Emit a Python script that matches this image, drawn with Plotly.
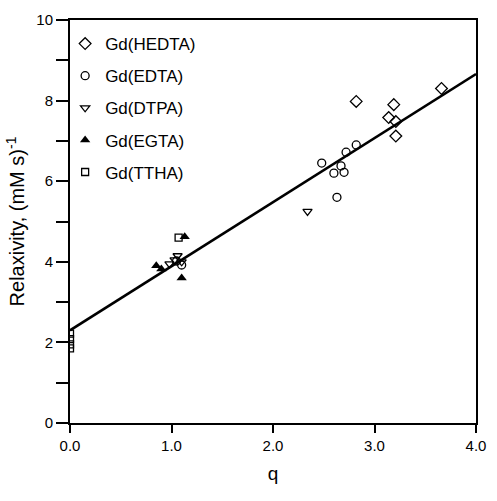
import plotly.graph_objects as go

# --- data ---
hedta_q = [2.82, 3.19, 3.14, 3.21, 3.21, 3.66]
hedta_r = [7.98, 7.90, 7.58, 7.48, 7.12, 8.30]

edta_q = [2.82, 2.72, 2.48, 2.67, 2.60, 2.70, 2.63, 1.05, 1.10]
edta_r = [6.90, 6.72, 6.45, 6.38, 6.20, 6.22, 5.60, 4.02, 3.92]

dtpa_q = [2.34, 0.98, 1.06, 1.03, 1.10]
dtpa_r = [5.25, 3.95, 4.15, 4.05, 4.00]

egta_q = [0.85, 0.90, 1.10, 1.13]
egta_r = [3.90, 3.82, 3.60, 4.62]

ttha_q = [0.0, 0.0, 0.0, 0.0, 1.07]
ttha_r = [2.22, 2.08, 1.95, 1.85, 4.60]

fit_intercept = 2.30
fit_slope = 1.59
fit_q = [0.0, 4.0]
fit_r = [fit_intercept + fit_slope * q for q in fit_q]

x_ticks = [0, 1, 2, 3, 4]
x_tick_labels = ["0.0", "1.0", "2.0", "3.0", "4.0"]
y_ticks = [0, 2, 4, 6, 8, 10]
y_tick_labels = ["0", "2", "4", "6", "8", "10"]

FONT = "Liberation Sans, Arial, Helvetica, sans-serif"

fig = go.Figure()

fig.add_trace(go.Scatter(x=fit_q, y=fit_r, mode="lines",
                         line=dict(color="black", width=2.6),
                         showlegend=False, hoverinfo="skip"))

series = [
    ("Gd(HEDTA)", hedta_q, hedta_r, "diamond-open", 9, 1.3),
    ("Gd(EDTA)", edta_q, edta_r, "circle-open", 8, 1.3),
    ("Gd(DTPA)", dtpa_q, dtpa_r, "triangle-down-open", 8, 1.3),
    ("Gd(EGTA)", egta_q, egta_r, "triangle-up", 9, 0),
    ("Gd(TTHA)", ttha_q, ttha_r, "square-open", 7, 1.3),
]
for name, xs, ys, sym, size, lw in series:
    fig.add_trace(go.Scatter(
        x=xs, y=ys, mode="markers", name=name, legendgroup=name,
        marker=dict(symbol=sym, size=size, color="black",
                    line=dict(color="black", width=lw)),
    ))

fig.update_layout(
    width=497, height=501,
    margin=dict(l=70, r=11, t=15, b=78),
    paper_bgcolor="white", plot_bgcolor="white",
    font=dict(family=FONT, color="black", size=15),
    showlegend=True,
    legend=dict(x=-0.012, y=0.985, xanchor="left", yanchor="top",
                font=dict(size=17, family=FONT),
                bgcolor="rgba(0,0,0,0)", traceorder="grouped",
                tracegroupgap=7, itemwidth=30),
    xaxis=dict(range=[0, 4], tickvals=x_ticks, ticktext=x_tick_labels,
               ticks="outside", ticklen=8, tickwidth=1.5, tickcolor="black",
               showline=True, linewidth=2, linecolor="black", mirror=True,
               showgrid=False, zeroline=False,
               tickfont=dict(size=15),
               title=dict(text="q", font=dict(size=19), standoff=14)),
    yaxis=dict(range=[0, 10], tickvals=y_ticks, ticktext=y_tick_labels,
               ticks="outside", ticklen=12, tickwidth=1.5, tickcolor="black",
               minor=dict(dtick=1, ticks="outside", ticklen=12,
                          tickwidth=1.5, tickcolor="black", showgrid=False),
               showline=True, linewidth=2, linecolor="black", mirror=True,
               showgrid=False, zeroline=False,
               tickfont=dict(size=15),
               title=dict(text="Relaxivity, (mM s)<sup>-1</sup>",
                          font=dict(size=20), standoff=6)),
)

fig.write_html(
    "out.html",
    config={"displayModeBar": False},
    post_script="document.body.style.margin='0';document.body.style.overflow='hidden';",
)
